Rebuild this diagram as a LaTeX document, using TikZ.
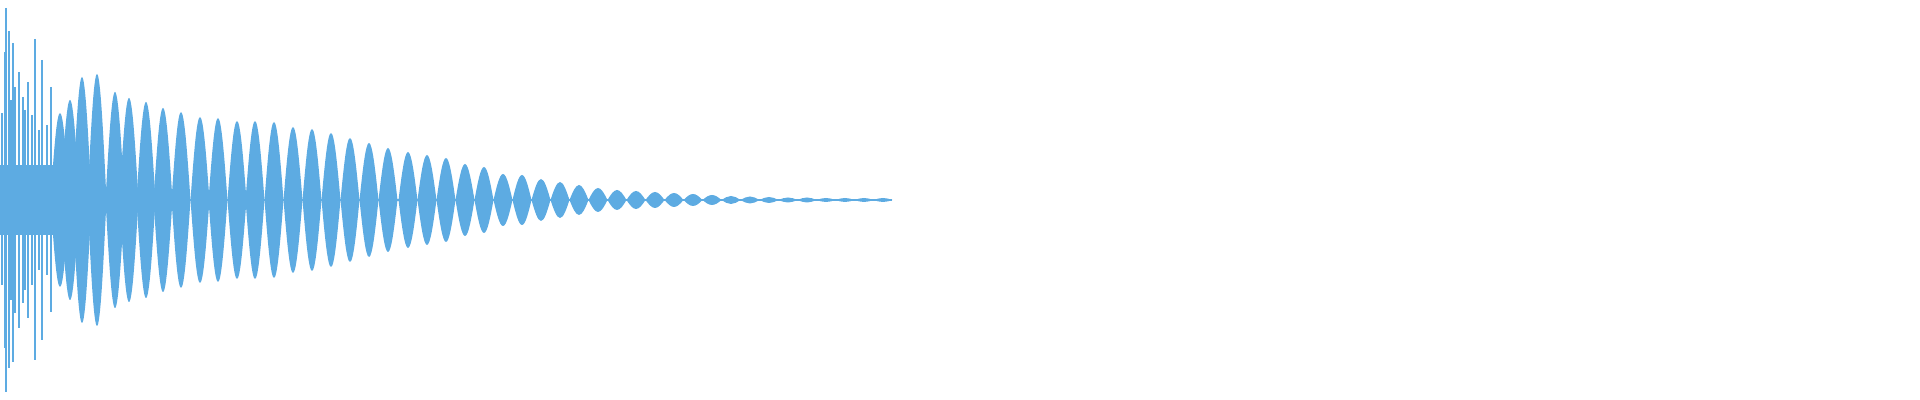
\documentclass[tikz,border=0pt]{standalone}
\definecolor{wave}{RGB}{93,171,226}
\begin{document}
\begin{tikzpicture}[x=0.5pt,y=0.5pt,wavefill/.style={fill=wave},spike/.style={draw=wave,line width=1pt}]
\useasboundingbox (0,0) rectangle (1920,400);
% base band
\fill[wave] (0,165) rectangle (64,235);
\fill[wave] (0,199.3) rectangle (892,200.7);
% early spikes
\foreach \x/\t/\b in {1.5/113/285, 4.5/52/348, 5.5/8/392, 9/31/368, 11/100/300, 13/43/362, 14.5/87/313, 19/72/328, 23/97/303, 25/110/290, 28/82/318, 32/115/285, 35/39/360, 39/130/270, 42/60/340, 47/125/275, 51/87/312}
  \draw[spike] (\x,400-\t) -- (\x,400-\b);
% lobes: center/amplitude
\foreach \c/\a in {60/87, 70/100, 82/123, 97/126, 115/108, 129/102, 146/98, 163/92, 181/88, 200/83, 218/82, 237/79, 255/79, 274/78, 293/73, 312/71, 331/67, 350/62, 369/57, 388/52, 408/48, 427/45, 446/42, 465/36, 484/33, 503/26, 522/25, 541/21, 560/18, 579/15, 598/12, 617/10, 636/9, 655/8, 674/7, 693/6, 712/5, 731/4, 750/3.5, 769/3, 788/2.5, 807/2.5, 826/2, 845/2, 864/2, 883/2}
  \fill[wavefill] (\c-9.5,200) sin (\c,200+\a) cos (\c+9.5,200) sin (\c,200-\a) cos (\c-9.5,200) -- cycle;
\end{tikzpicture}
\end{document}
